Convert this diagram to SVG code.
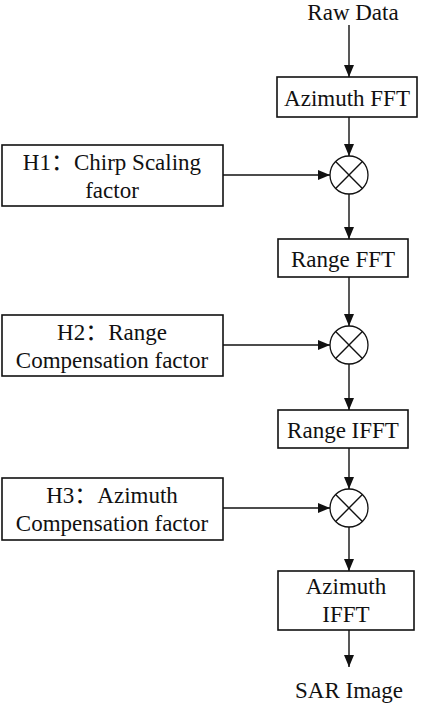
<svg xmlns="http://www.w3.org/2000/svg" width="424" height="705" viewBox="0 0 424 705">
<style>
text{font-family:'Liberation Serif','Times New Roman',Times,'DejaVu Serif',serif;font-size:23px;fill:#111;text-anchor:middle}
.cjk{font-family:'Noto Sans CJK SC',sans-serif}
.box{fill:#fff;stroke:#111;stroke-width:1.6}
.ln{stroke:#111;stroke-width:1.4;fill:none}
.mul{fill:#fff;stroke:#111;stroke-width:1.3}
</style>
<defs>
<marker id="ar" viewBox="0 0 12 10" refX="12" refY="5" markerWidth="12" markerHeight="10" markerUnits="userSpaceOnUse" orient="auto">
<path d="M0,0 L12,5 L0,10 Z" fill="#111"/>
</marker>
</defs>
<rect width="424" height="705" fill="#fff"/>
<g id="connectors">
<line class="ln" x1="349" y1="25" x2="349" y2="77" marker-end="url(#ar)"/>
<line class="ln" x1="349" y1="117" x2="349" y2="156" marker-end="url(#ar)"/>
<line class="ln" x1="349" y1="194" x2="349" y2="239" marker-end="url(#ar)"/>
<line class="ln" x1="349" y1="277" x2="349" y2="326" marker-end="url(#ar)"/>
<line class="ln" x1="349" y1="364" x2="349" y2="410" marker-end="url(#ar)"/>
<line class="ln" x1="349" y1="448" x2="349" y2="489" marker-end="url(#ar)"/>
<line class="ln" x1="349" y1="527" x2="349" y2="571" marker-end="url(#ar)"/>
<line class="ln" x1="349" y1="630" x2="349" y2="667" marker-end="url(#ar)"/>
<line class="ln" x1="223" y1="175" x2="330" y2="175" marker-end="url(#ar)"/>
<line class="ln" x1="223" y1="345" x2="330" y2="345" marker-end="url(#ar)"/>
<line class="ln" x1="223" y1="508" x2="330" y2="508" marker-end="url(#ar)"/>
</g>
<g id="raw"><text x="353" y="20">Raw Data</text></g>
<g id="azfft"><rect class="box" x="277" y="77" width="140" height="40"/><text x="347" y="106">Azimuth FFT</text></g>
<g id="h1"><rect class="box" x="2" y="145" width="221" height="61"/><text x="112" y="170">H1<tspan class="cjk">：</tspan>Chirp Scaling</text><text x="112" y="198">factor</text></g>
<g id="m1"><circle class="mul" cx="349" cy="175" r="19"/><path class="ln" d="M335.6,161.6 L362.4,188.4 M362.4,161.6 L335.6,188.4" stroke-width="1.2"/></g>
<g id="rfft"><rect class="box" x="278" y="239" width="130" height="38"/><text x="343" y="267">Range FFT</text></g>
<g id="h2"><rect class="box" x="2" y="315" width="221" height="61"/><text x="112" y="340">H2<tspan class="cjk">：</tspan>Range</text><text x="112" y="368">Compensation factor</text></g>
<g id="m2"><circle class="mul" cx="349" cy="345" r="19"/><path class="ln" d="M335.6,331.6 L362.4,358.4 M362.4,331.6 L335.6,358.4" stroke-width="1.2"/></g>
<g id="rifft"><rect class="box" x="278" y="410" width="130" height="38"/><text x="343" y="438">Range IFFT</text></g>
<g id="h3"><rect class="box" x="2" y="478" width="221" height="62"/><text x="112" y="503">H3<tspan class="cjk">：</tspan>Azimuth</text><text x="112" y="531">Compensation factor</text></g>
<g id="m3"><circle class="mul" cx="349" cy="508" r="19"/><path class="ln" d="M335.6,494.6 L362.4,521.4 M362.4,494.6 L335.6,521.4" stroke-width="1.2"/></g>
<g id="azifft"><rect class="box" x="278" y="571" width="136" height="59"/><text x="346" y="594">Azimuth</text><text x="346" y="622">IFFT</text></g>
<g id="sar"><text x="349" y="698">SAR Image</text></g>
</svg>
